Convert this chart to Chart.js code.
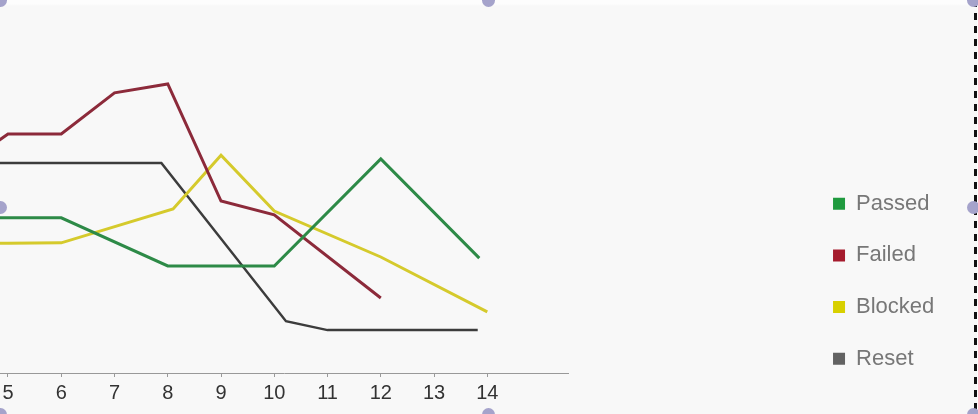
<!DOCTYPE html>
<html>
<head>
<meta charset="utf-8">
<script src="https://cdn.jsdelivr.net/npm/chart.js@4.4.1/dist/chart.umd.min.js"></script>
<style>
  body { margin: 0; background: #fff; }
  #wrap {
    position: relative;
    width: 978px;
    height: 414px;
    overflow: hidden;
    background: linear-gradient(#fdfdfd 0, #fdfdfd 4px, #f8f8f8 6px);
  }
  #chart { position: absolute; left: 0; top: 0; }
  .dash {
    position: absolute; left: 974px; top: 0; width: 3px; height: 414px;
    background: repeating-linear-gradient(to bottom, #111 0, #111 7px, transparent 7px, transparent 13px);
  }
  .edge { position: absolute; left: 977px; top: 0; width: 1px; height: 414px; background: #fff; }
  .handle {
    position: absolute; width: 13px; height: 13px; border-radius: 50%;
    background: #a5a3cb; margin: -6px 0 0 -6px;
  }
</style>
</head>
<body>
<div id="wrap">
  <canvas id="chart" width="978" height="414"></canvas>
  <div class="dash"></div>
  <div class="edge"></div>
</div>

<script>
// x axis labels (day numbers)
const tickLabels = ["5", "6", "7", "8", "9", "10", "11", "12", "13", "14"];

// series (y in relative units 0-100)
const passedX = [4, 5, 6, 8, 10, 12, 13.85];
const passed  = [41.6, 41.6, 41.6, 28.7, 28.7, 57.4, 30.8];

const failedX = [4, 5, 6, 7, 8, 9, 10, 12];
const failed  = [54, 64.1, 64.1, 75.1, 77.5, 46.1, 42.4, 20.1];

const blockedX = [4, 5, 6, 8.1, 9, 10, 12, 14];
const blocked  = [34.8, 34.8, 34.9, 44.0, 58.4, 43.4, 31.1, 16.4];

const resetX = [4, 7.88, 10.22, 11, 13.82];
const reset  = [56.3, 56.3, 13.9, 11.5, 11.5];

const seriesNames = ["Passed", "Failed", "Blocked", "Reset"];

function points(xs, ys) {
  return xs.map((x, i) => ({ x: x, y: ys[i] }));
}

function line(label, xs, ys, color, boxColor, width) {
  return {
    label: label,
    data: points(xs, ys),
    borderColor: color,
    backgroundColor: boxColor,
    borderWidth: width,
    pointRadius: 0,
    tension: 0,
    fill: false
  };
}

const ctx = document.getElementById("chart").getContext("2d");

new Chart(ctx, {
  type: "line",
  data: {
    datasets: [
      line(seriesNames[0], passedX, passed, "#2d8a47", "#1f9a3e", 3),
      line(seriesNames[1], failedX, failed, "#8c2a3a", "#a51b2d", 3),
      line(seriesNames[2], blockedX, blocked, "#d5ca2c", "#d8d000", 3),
      line(seriesNames[3], resetX, reset, "#3c3c3c", "#626262", 2.5)
    ]
  },
  options: {
    responsive: false,
    devicePixelRatio: 1,
    animation: false,
    layout: {
      padding: { left: 0, top: 0, right: 33.7, bottom: 14.5 }
    },
    plugins: {
      tooltip: { enabled: false },
      legend: {
        display: true,
        position: "right",
        align: "end",
        labels: {
          boxWidth: 12,
          boxHeight: 12,
          padding: 29.7,
          color: "#777",
          font: { family: "'Liberation Sans', Arial, sans-serif", size: 22 },
          generateLabels: chart =>
            Chart.defaults.plugins.legend.labels.generateLabels(chart)
              .map(l => ({ ...l, lineWidth: 0 }))
        }
      }
    },
    scales: {
      x: {
        type: "linear",
        min: 4.85,
        max: 15.516,
        afterBuildTicks: s => {
          s.ticks = tickLabels.map(t => ({ value: Number(t) }));
        },
        afterFit: s => {
          s.height = 26.5;
          s.paddingLeft = 0;
          s.paddingRight = 0;
        },
        ticks: {
          padding: 4,
          color: "#333",
          font: { family: "'Liberation Sans', Arial, sans-serif", size: 20 },
          callback: v => String(v)
        },
        grid: {
          drawOnChartArea: false,
          tickLength: 4,
          color: "#999"
        },
        border: { color: "#999", width: 1 }
      },
      y: {
        position: "right",
        min: 0,
        max: 100,
        afterFit: s => { s.width = 235.3; },
        ticks: { display: false },
        grid: { display: false },
        border: { display: false }
      }
    }
  }
});

// selection handles round the frame
[[0, 0], [0, 207], [0, 414], [488, 0], [488, 414], [973, 0], [973, 207], [973, 414]]
  .forEach(([x, y]) => {
    const h = document.createElement("div");
    h.className = "handle";
    h.style.left = x + "px";
    h.style.top = y + "px";
    document.getElementById("wrap").appendChild(h);
  });
</script>
</body>
</html>
